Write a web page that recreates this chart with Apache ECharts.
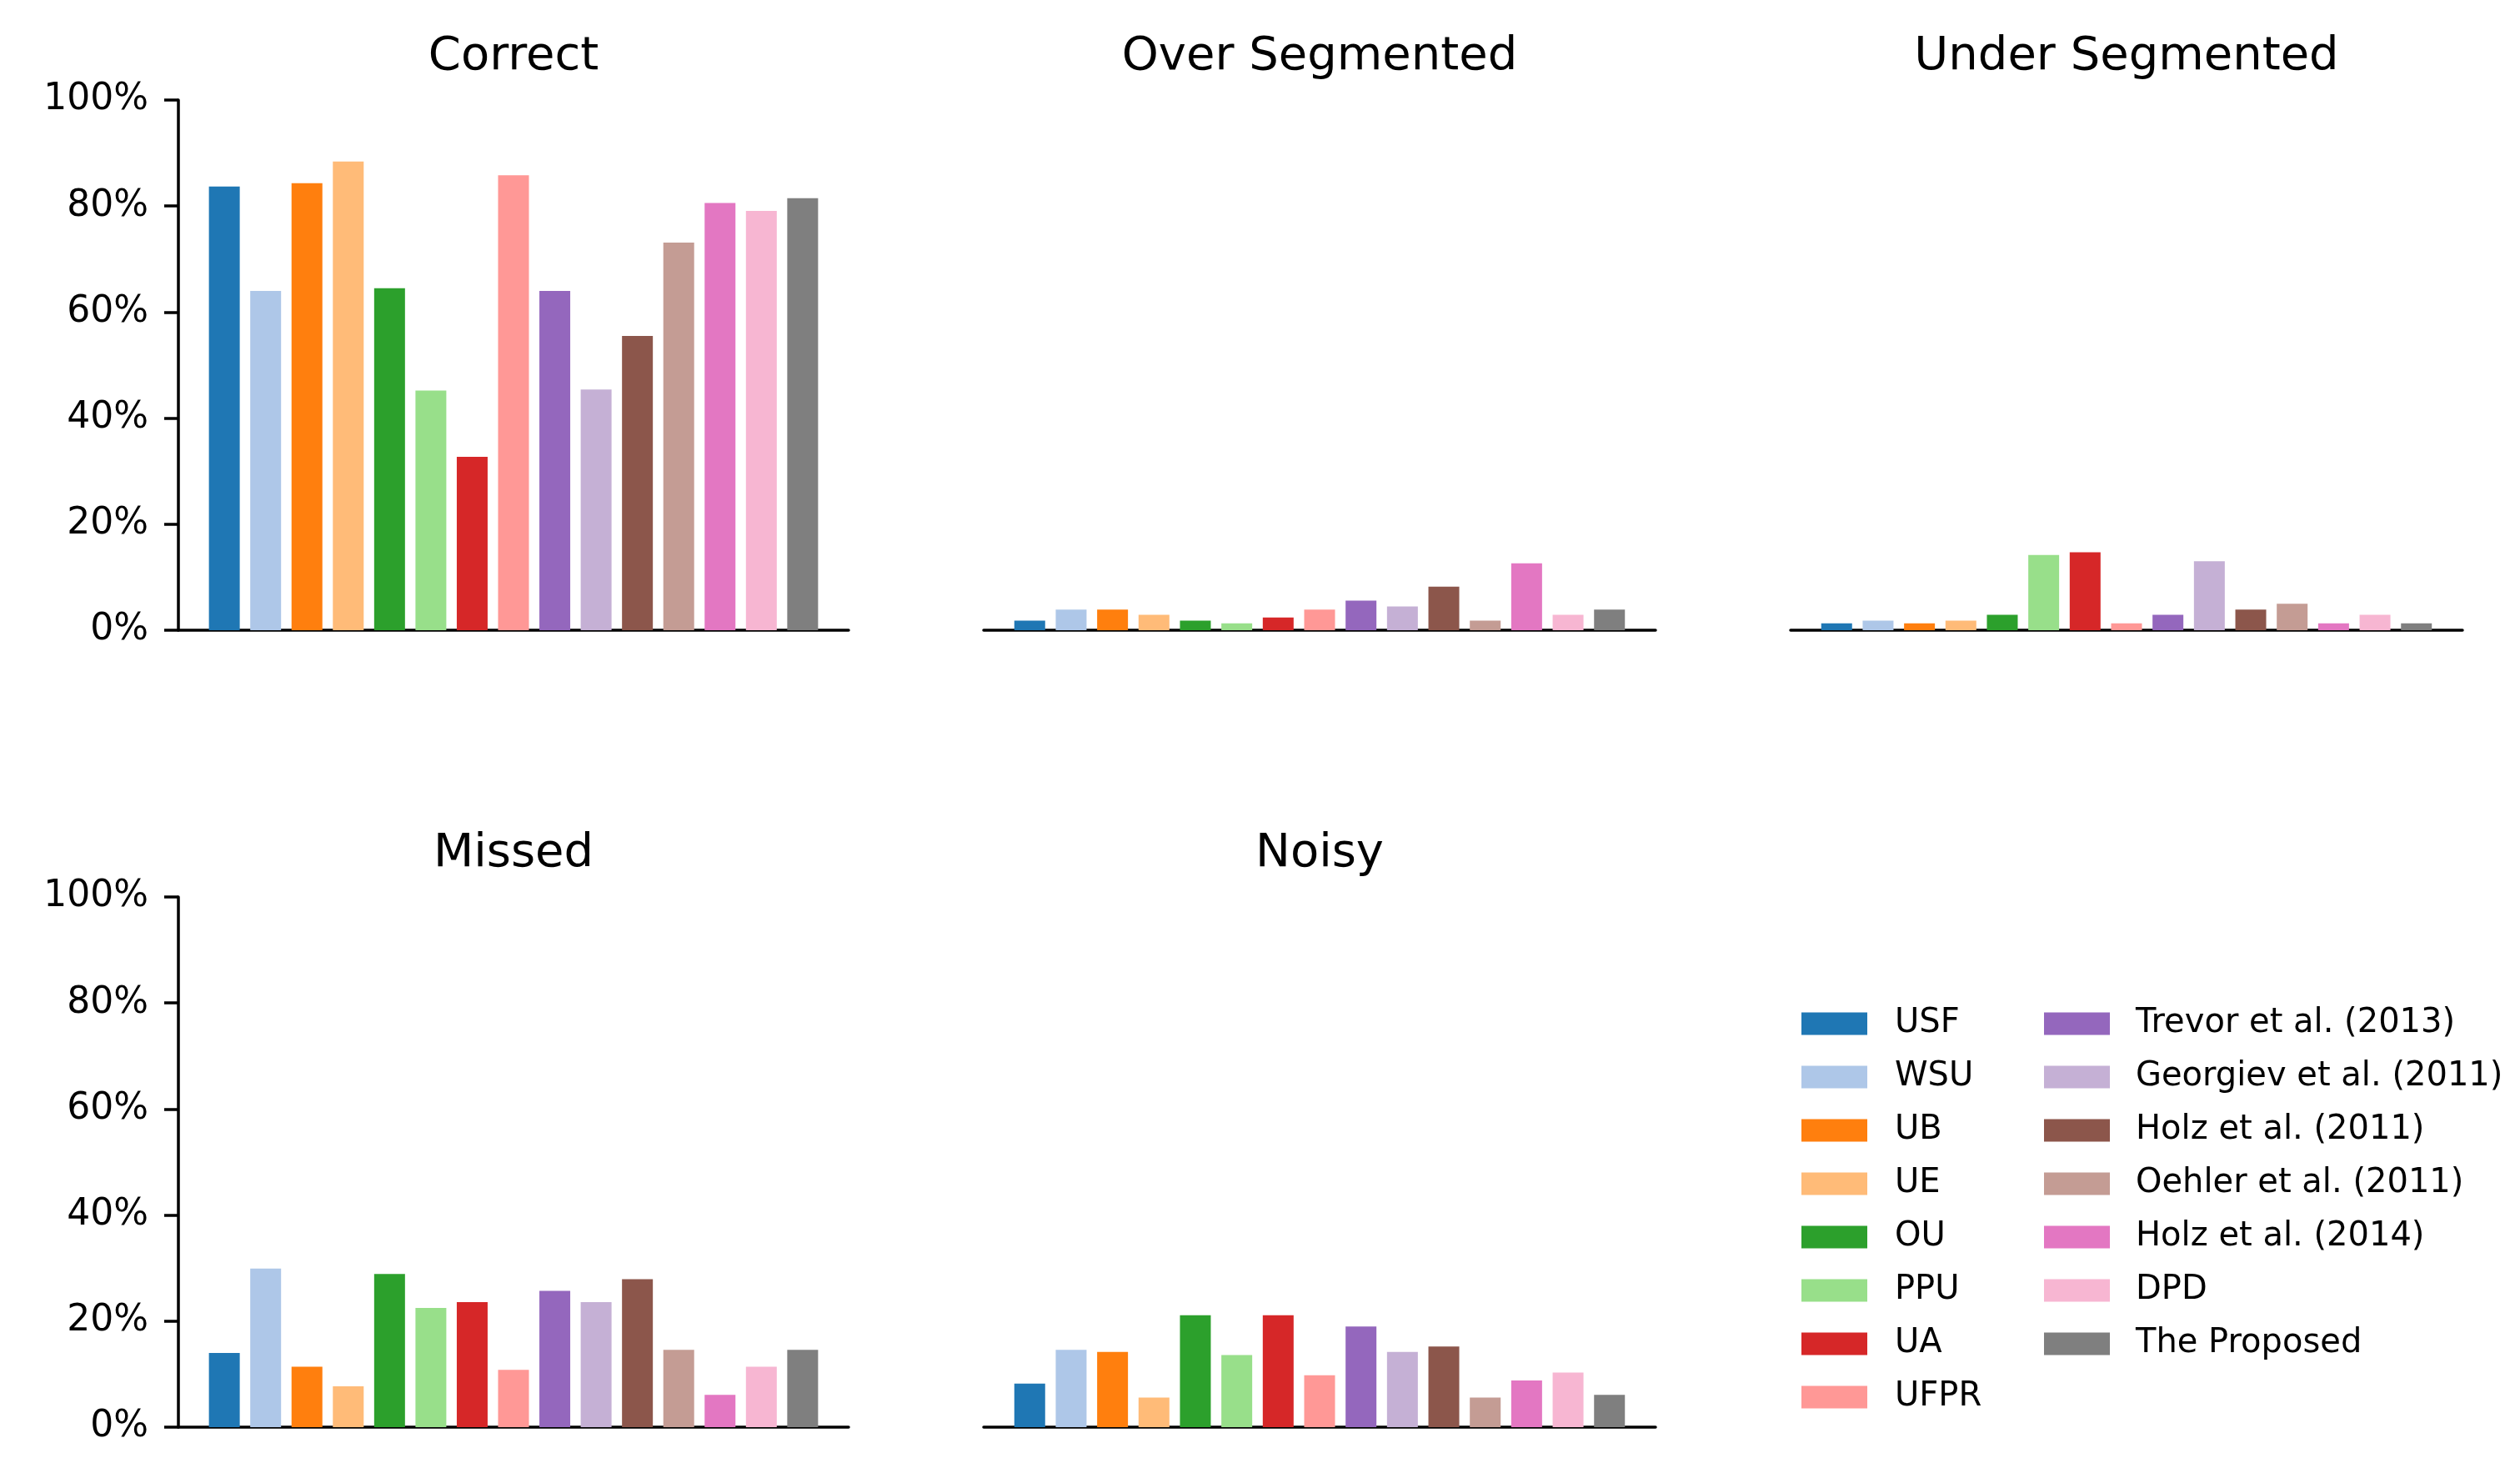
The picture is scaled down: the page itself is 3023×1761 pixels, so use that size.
<!DOCTYPE html>
<html>
<head>
<meta charset="utf-8">
<script src="https://cdn.jsdelivr.net/npm/echarts@6/dist/echarts.min.js"></script>
<style>
html,body{margin:0;padding:0;background:#fff;}
#chart{width:3023px;height:1761px;}
</style>
</head>
<body>
<div id="chart"></div>
<script>
// ---- data ----
const methods = ['USF','WSU','UB','UE','OU','PPU','UA','UFPR','Trevor et al. (2013)','Georgiev et al. (2011)','Holz et al. (2011)','Oehler et al. (2011)','Holz et al. (2014)','DPD','The Proposed'];
const colors = ['#1f77b4','#aec7e8','#ff7f0e','#ffbb78','#2ca02c','#98df8a','#d62728','#ff9896','#9467bd','#c5b0d5','#8c564b','#c49c94','#e377c2','#f7b6d2','#7f7f7f'];
const panelTitles = ['Correct','Over Segmented','Under Segmented','Missed','Noisy'];
const correct   = [83.7, 64.0, 84.3, 88.4, 64.5, 45.2, 32.7, 85.8, 64.0, 45.4, 55.5, 73.1, 80.6, 79.1, 81.5];
const overSeg   = [1.8, 3.9, 3.9, 2.9, 1.8, 1.3, 2.4, 3.9, 5.6, 4.5, 8.2, 1.8, 12.6, 2.9, 3.9];
const underSeg  = [1.3, 1.8, 1.3, 1.8, 2.9, 14.2, 14.7, 1.3, 2.9, 13.0, 3.9, 5.0, 1.3, 2.9, 1.3];
const missed    = [14.0, 29.9, 11.4, 7.7, 28.9, 22.5, 23.6, 10.8, 25.7, 23.6, 27.9, 14.6, 6.1, 11.4, 14.6];
const noisy     = [8.2, 14.6, 14.2, 5.6, 21.1, 13.6, 21.1, 9.8, 19.0, 14.2, 15.2, 5.6, 8.8, 10.3, 6.1];
const yTicks = [0, 20, 40, 60, 80, 100];

const panelData = [correct, overSeg, underSeg, missed, noisy];

// ---- layout ----
const grids = [
  {left: 214,  top: 120,  width: 804, height: 636},
  {left: 1180, top: 120,  width: 806, height: 636},
  {left: 2148, top: 120,  width: 806, height: 636},
  {left: 214,  top: 1076, width: 804, height: 636},
  {left: 1180, top: 1076, width: 806, height: 636}
];
const showY = [true, false, false, true, false];
const xPad = 1.1125;
const FONT = 'DejaVu Sans';

const chart = echarts.init(document.getElementById('chart'), null, {renderer: 'canvas'});

const series = [];
panelData.forEach((vals, p) => {
  vals.forEach((v, i) => {
    series.push({
      type: 'bar',
      name: methods[i],
      xAxisIndex: p,
      yAxisIndex: p,
      data: [[i, v]],
      barWidth: 37,
      barGap: '-100%',
      itemStyle: {color: colors[i]},
      silent: true
    });
  });
});

const option = {
  animation: false,
  backgroundColor: '#fff',
  textStyle: {fontFamily: FONT},
  title: panelTitles.map((t, p) => ({
    text: t,
    left: grids[p].left + grids[p].width / 2,
    top: grids[p].top - 80,
    textAlign: 'center',
    padding: 0,
    textStyle: {fontFamily: FONT, fontSize: 56, fontWeight: 'normal', color: '#000'}
  })),
  grid: grids.map(g => Object.assign({containLabel: false}, g)),
  xAxis: grids.map((g, p) => ({
    type: 'value',
    gridIndex: p,
    min: -xPad,
    max: 14 + xPad,
    axisLine: {show: true, onZero: true, lineStyle: {color: '#000', width: 3.5}},
    axisTick: {show: false},
    axisLabel: {show: false},
    splitLine: {show: false}
  })),
  yAxis: grids.map((g, p) => ({
    type: 'value',
    gridIndex: p,
    min: yTicks[0],
    max: yTicks[yTicks.length - 1],
    interval: 20,
    axisLine: {show: showY[p], onZero: false, lineStyle: {color: '#000', width: 3.5}},
    axisTick: {show: showY[p], length: 17, lineStyle: {color: '#000', width: 3.5}},
    axisLabel: {show: showY[p], margin: 36, formatter: '{value}%', fontFamily: FONT, fontSize: 44, color: '#000'},
    splitLine: {show: false}
  })),
  legend: [
    {
      data: methods.slice(0, 8),
      orient: 'vertical',
      left: 2161,
      top: 1208,
      itemWidth: 79,
      itemHeight: 27,
      itemGap: 24,
      icon: 'rect',
      selectedMode: false,
      padding: 0,
      textStyle: {fontFamily: FONT, fontSize: 40, lineHeight: 40, color: '#000', padding: [0, 0, 0, 28]}
    },
    {
      data: methods.slice(8),
      orient: 'vertical',
      left: 2452,
      top: 1208,
      itemWidth: 79,
      itemHeight: 27,
      itemGap: 24,
      icon: 'rect',
      selectedMode: false,
      padding: 0,
      textStyle: {fontFamily: FONT, fontSize: 40, lineHeight: 40, color: '#000', padding: [0, 0, 0, 26]}
    }
  ],
  series: series
};
chart.setOption(option);
</script>
</body>
</html>
